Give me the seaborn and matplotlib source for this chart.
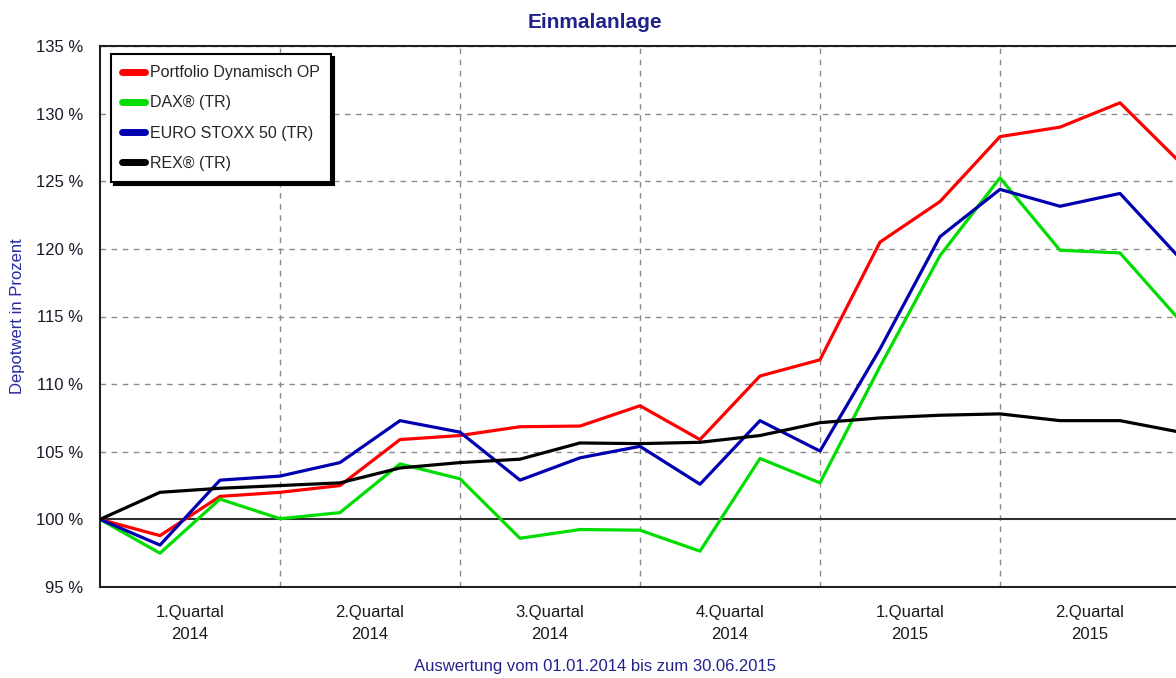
import numpy as np
import pandas as pd
import matplotlib
matplotlib.use('Agg')
import matplotlib.pyplot as plt
import seaborn as sns

# monthly values from 01.2014 to 06.2015 (in %)
months = list(range(19))
portfolio = [100, 98.8, 101.7, 102.0, 102.5, 105.9, 106.2, 106.85, 106.9, 108.4,
             105.9, 110.6, 111.8, 120.5, 123.5, 128.3, 129.0, 130.8, 126.4]
dax = [100, 97.5, 101.5, 100.05, 100.5, 104.1, 103.0, 98.6, 99.25, 99.2,
       97.65, 104.5, 102.7, 111.3, 119.5, 125.25, 119.9, 119.7, 114.7]
stoxx = [100, 98.1, 102.9, 103.2, 104.2, 107.3, 106.45, 102.9, 104.55, 105.4,
         102.6, 107.3, 105.05, 112.6, 120.9, 124.4, 123.15, 124.1, 119.3]
rex = [100, 102.0, 102.3, 102.5, 102.7, 103.8, 104.2, 104.45, 105.65, 105.6,
       105.7, 106.2, 107.15, 107.5, 107.7, 107.8, 107.3, 107.3, 106.45]

series_names = ['Portfolio Dynamisch OP', 'DAX® (TR)', 'EURO STOXX 50 (TR)', 'REX® (TR)']
series_colors = ['#ff0000', '#00dd00', '#0000b0', '#000000']
quarter_labels = ['1.Quartal\n2014', '2.Quartal\n2014', '3.Quartal\n2014',
                  '4.Quartal\n2014', '1.Quartal\n2015', '2.Quartal\n2015']
y_ticks = [95, 100, 105, 110, 115, 120, 125, 130, 135]

df = pd.DataFrame({
    'month': months * 4,
    'value': portfolio + dax + stoxx + rex,
    'series': np.repeat(series_names, len(months)),
})

sns.set_style('white')
plt.rcParams['font.family'] = ['Liberation Sans', 'DejaVu Sans']

fig = plt.figure(figsize=(11.76, 6.78), dpi=100)
ax = fig.add_axes([100 / 1176, 1 - 587 / 678, 1080 / 1176, 541 / 678])

# grid
for q in [3, 6, 9, 12, 15]:
    ax.axvline(q, color='#8a8a8a', lw=1, ls=(0, (4, 4)), zorder=0)
for yv in y_ticks[2:]:
    ax.axhline(yv, color='#8a8a8a', lw=1, ls=(0, (4, 4)), zorder=0)
ax.axhline(100, color='#303030', lw=1.5, zorder=1)

sns.lineplot(data=df, x='month', y='value', hue='series', hue_order=series_names,
             palette=series_colors, lw=2.3, ax=ax, zorder=3)

ax.set_xlim(0, 18)
ax.set_ylim(95, 135)
ax.set_yticks(y_ticks)
ax.set_yticklabels([f'{v} %' for v in y_ticks], fontsize=12, color='#1a1a2a')

ax.set_xticks([0, 3, 6, 9, 12, 15, 18])
ax.set_xticklabels([])
ax.set_xticks([1.5, 4.5, 7.5, 10.5, 13.5, 16.5], minor=True)
ax.set_xticklabels(quarter_labels, minor=True, fontsize=12, linespacing=1.6,
                   color='#1a1a1a')
ax.tick_params(axis='x', which='major', length=7, width=1, color='#404040', direction='out')
ax.tick_params(axis='x', which='minor', length=0, pad=13)
ax.tick_params(axis='y', length=7, width=1, color='#404040', direction='out', pad=5)

for side in ['left', 'bottom', 'top', 'right']:
    ax.spines[side].set_color('#202020')
    ax.spines[side].set_linewidth(1.5)

ax.set_xlabel('')
ax.set_ylabel('Depotwert in Prozent', fontsize=12, color='#2a2aa0')
ax.yaxis.set_label_coords(-75 / 1080, 0.5)

leg = ax.legend(loc='upper left', bbox_to_anchor=(11 / 1080, 533 / 541), borderaxespad=0,
                fontsize=11.5, handlelength=1.4, handletextpad=0.35, labelspacing=0.95,
                frameon=True, fancybox=False, borderpad=0.7,
                shadow={'color': 'black', 'alpha': 1.0})
leg.get_frame().set_edgecolor('black')
leg.get_frame().set_linewidth(1.5)
for line in leg.get_lines():
    line.set_linewidth(5)
    line.set_solid_capstyle('round')

fig.text(595 / 1176, 1 - 22 / 678, 'Einmalanlage', ha='center', va='center',
         fontsize=15, fontweight='bold', color='#22228c')
fig.text(595 / 1176, 1 - 667 / 678, 'Auswertung vom 01.01.2014 bis zum 30.06.2015',
         ha='center', va='center', fontsize=12, color='#22228c')

fig.savefig('out.png', dpi=100)
